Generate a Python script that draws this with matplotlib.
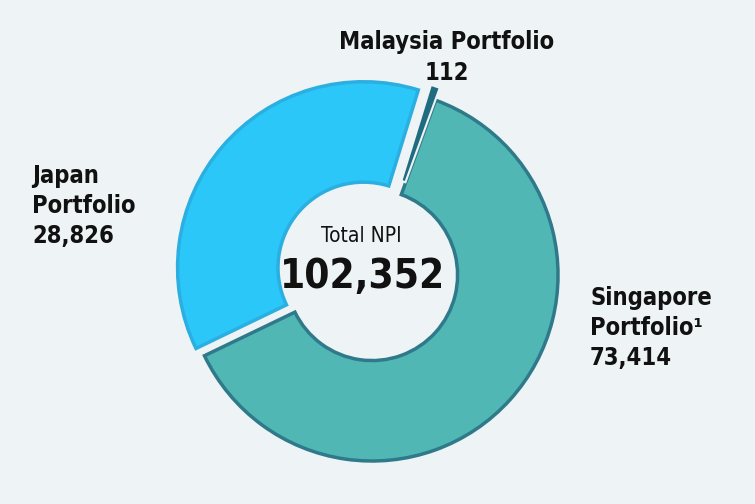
import matplotlib.pyplot as plt

# values printed on the chart
regions = ['Singapore', 'Japan', 'Malaysia']
npi_values = [73414, 28826, 112]
total_npi = 102352

# share of the circle each ring slice takes in the picture (percent)
drawn_shares = [62.3, 36.9, 0.8]

fill_colors = ['#50b7b4', '#2cc7f9', '#1f6b80']
edge_colors = ['#2f7a8a', '#2aafe0', '#eef3f6']
explode = [0.0, 0.06, 0.07]
bg = '#eef3f6'

plt.rcParams['font.family'] = ['DejaVu Sans']

fig = plt.figure(figsize=(7.55, 5.04), dpi=100)
fig.patch.set_facecolor(bg)

# axes placed so the ring centre sits at about (372, 275) px, radius 186 px
ax = fig.add_axes([0.1971, 0.0115, 0.5913, 0.8857])
ax.set_facecolor(bg)

wedges, _ = ax.pie(drawn_shares, colors=fill_colors, explode=explode,
                   startangle=70, counterclock=False,
                   wedgeprops=dict(width=0.54, linewidth=2.5))
for w, ec in zip(wedges, edge_colors):
    w.set_edgecolor(ec)
wedges[2].set_linewidth(1.5)

ax.set_xlim(-1.2, 1.2)
ax.set_ylim(-1.2, 1.2)
ax.set_aspect('equal')
ax.axis('off')

font = dict(fontweight='bold', fontstretch='condensed', color='#111111')

ax.text(-0.06, 0.21, 'Total NPI', ha='center', va='center', fontsize=15,
        fontstretch='condensed', color='#111111')
ax.text(-0.05, -0.01, f'{total_npi:,}', ha='center', va='center',
        fontsize=29, **font)

fig.text(447 / 755, 1 - 42 / 504, f'{regions[2]} Portfolio',
         ha='center', va='center', fontsize=17, **font)
fig.text(447 / 755, 1 - 73 / 504, f'{npi_values[2]:,}',
         ha='center', va='center', fontsize=17, **font)

fig.text(32 / 755, 1 - 206 / 504,
         f'{regions[1]}\nPortfolio\n{npi_values[1]:,}',
         ha='left', va='center', fontsize=17, linespacing=1.32, **font)

fig.text(590 / 755, 1 - 328 / 504,
         f'{regions[0]}\nPortfolio\u00b9\n{npi_values[0]:,}',
         ha='left', va='center', fontsize=17, linespacing=1.32, **font)

fig.savefig('out.png', dpi=100, facecolor=bg)
